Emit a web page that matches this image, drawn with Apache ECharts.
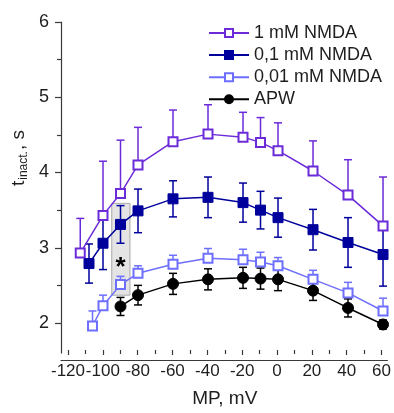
<!DOCTYPE html>
<html>
<head>
<meta charset="utf-8">
<script src="https://cdn.jsdelivr.net/npm/echarts@6.0.0/dist/echarts.min.js"></script>
<style>
html,body{margin:0;padding:0;background:#fff;}
#chart{width:394px;height:413px;}
</style>
</head>
<body>
<div id="chart"></div>
<script>
// ---- data ----
const seriesNames = ['1 mM NMDA', '0,1 mM NMDA', '0,01 mM NMDA', 'APW'];

const xPurple = [-113, -100, -90, -80, -60, -40, -20, -10, 0, 20, 40, 60];
const yPurple = [2.93, 3.43, 3.72, 4.10, 4.41, 4.51, 4.47, 4.40, 4.29, 4.02, 3.70, 3.29];
const ePurple = [0.46, 0.72, 0.71, 0.50, 0.42, 0.39, 0.33, 0.33, 0.37, 0.40, 0.47, 0.65];

const xBlue = [-108, -100, -90, -80, -60, -40, -20, -10, 0, 20, 40, 60];
const yBlue = [2.79, 3.06, 3.31, 3.49, 3.65, 3.67, 3.60, 3.50, 3.40, 3.24, 3.07, 2.91];
const eBlue = [0.26, 0.35, 0.25, 0.29, 0.24, 0.27, 0.26, 0.25, 0.26, 0.27, 0.33, 0.42];

const xLight = [-106, -100, -90, -80, -60, -40, -20, -10, 0, 20, 40, 60];
const yLight = [1.96, 2.23, 2.51, 2.66, 2.78, 2.86, 2.84, 2.81, 2.76, 2.58, 2.40, 2.16];
const eLight = [0.20, 0.14, 0.11, 0.10, 0.12, 0.13, 0.14, 0.13, 0.11, 0.12, 0.14, 0.17];

const xBlack = [-90, -80, -60, -40, -20, -10, 0, 20, 40, 60];
const yBlack = [2.22, 2.37, 2.52, 2.58, 2.60, 2.59, 2.58, 2.43, 2.20, 1.98];
const eBlack = [0.12, 0.13, 0.14, 0.14, 0.14, 0.14, 0.15, 0.13, 0.12, 0.06];

const xTicks = {min: -120, max: 60, interval: 20};
const yTicks = {min: 2, max: 6, interval: 1};

// significance box (mV range, s range) and marker
const sigBoxX = [-95, -84.6];
const sigBoxY = [2.37, 3.59];
const sigStar = [-90, 2.8];

// ---- styling ----
const cPurple = '#6c2bd9';
const cBlue = '#00009c';
const cLight = '#6e6eff';
const cBlack = '#000000';
const txt = '#1e1e1e';
const axisC = '#3a3a3a';
const FONT = 'Liberation Sans, Arial, sans-serif';

function pairs(xs, ys) { return xs.map((x, i) => [x, ys[i]]); }
function errData(xs, ys, es, both) {
  return xs.map((x, i) => [x, both ? ys[i] - es[i] : ys[i], ys[i] + es[i], both ? 1 : 0]);
}

function errSeries(data, color, z) {
  return {
    type: 'custom',
    xAxisIndex: 0, yAxisIndex: 0,
    z: z,
    silent: true,
    data: data,
    encode: {x: 0, y: [1, 2]},
    renderItem: function (params, api) {
      const x = api.value(0), lo = api.value(1), hi = api.value(2), both = api.value(3);
      const pLo = api.coord([x, lo]);
      const pHi = api.coord([x, hi]);
      const hw = 4;
      const st = {stroke: color, lineWidth: 1.5};
      const ch = [
        {type: 'line', shape: {x1: pLo[0], y1: pLo[1], x2: pHi[0], y2: pHi[1]}, style: st},
        {type: 'line', shape: {x1: pHi[0] - hw, y1: pHi[1], x2: pHi[0] + hw, y2: pHi[1]}, style: st}
      ];
      if (both) ch.push({type: 'line', shape: {x1: pLo[0] - hw, y1: pLo[1], x2: pLo[0] + hw, y2: pLo[1]}, style: st});
      return {type: 'group', children: ch};
    }
  };
}

function lineSeries(name, data, color, symbol, filled, size, z) {
  return {
    name: name,
    type: 'line',
    xAxisIndex: 0, yAxisIndex: 0,
    z: z,
    data: data,
    symbol: symbol,
    symbolSize: size,
    showAllSymbol: true,
    lineStyle: {color: color, width: 1.5},
    itemStyle: filled ? {color: color, borderColor: color, borderWidth: 1} : {color: '#ffffff', borderColor: color, borderWidth: 2},
    emphasis: {disabled: true},
    animation: false
  };
}

const chart = echarts.init(document.getElementById('chart'), null, {renderer: 'canvas'});

const option = {
  animation: false,
  textStyle: {fontFamily: FONT},
  grid: [
    {left: 61, right: 6.6, top: 22, bottom: 59.9},
    {left: 68, right: 11, top: 22, bottom: 59.9},
    {left: 61, right: 6.6, top: 22, bottom: 90}
  ],
  xAxis: [
    {gridIndex: 0, type: 'value', min: -124, max: 62.5, offset: 7,
     axisLine: {show: true, onZero: false, lineStyle: {color: axisC, width: 1.2}},
     axisTick: {show: false}, axisLabel: {show: false}, splitLine: {show: false}},
    {gridIndex: 1, type: 'value', min: xTicks.min, max: xTicks.max, interval: xTicks.interval, offset: 7,
     axisLine: {show: false, onZero: false},
     axisTick: {show: true, inside: false, length: 5, lineStyle: {color: axisC, width: 1.2}},
     minorTick: {show: true, splitNumber: 2, length: 4, lineStyle: {color: axisC, width: 1.2}},
     axisLabel: {show: true, fontSize: 17, color: txt, margin: 13, fontFamily: FONT,
                 hideOverlap: false, showMinLabel: true, showMaxLabel: true},
     splitLine: {show: false}, minorSplitLine: {show: false},
     name: 'MP, mV', nameLocation: 'middle', nameGap: 39,
     nameTextStyle: {fontSize: 19, color: txt, fontFamily: FONT}},
    {gridIndex: 2, type: 'value', min: -124, max: 62.5, show: false}
  ],
  yAxis: [
    {gridIndex: 0, type: 'value', min: 1.6, max: 6,
     axisLine: {show: true, onZero: false, lineStyle: {color: axisC, width: 1.2}},
     axisTick: {show: false}, axisLabel: {show: false}, splitLine: {show: false}},
    {gridIndex: 1, type: 'value', min: 1.6, max: 6, show: false},
    {gridIndex: 2, type: 'value', min: yTicks.min, max: yTicks.max, interval: yTicks.interval,
     axisLine: {show: false, onZero: false},
     axisTick: {show: true, inside: false, length: 6, lineStyle: {color: axisC, width: 1.2}},
     minorTick: {show: true, splitNumber: 2, length: 4, lineStyle: {color: axisC, width: 1.2}},
     axisLabel: {show: true, fontSize: 18, color: txt, margin: 12, fontFamily: FONT,
                 hideOverlap: false, showMinLabel: true, showMaxLabel: true},
     splitLine: {show: false}, minorSplitLine: {show: false}}
  ],
  legend: {
    data: seriesNames,
    orient: 'vertical',
    left: 203, top: 19,
    itemWidth: 40, itemHeight: 10,
    itemGap: 4.1,
    textStyle: {fontSize: 18, color: txt, fontFamily: FONT},
    selectedMode: false
  },
  graphic: [
    {type: 'text', x: 19, y: 158, rotation: Math.PI / 2,
     style: {
       text: '{t|t}{s|inact.}{t|, s}',
       textAlign: 'center', textVerticalAlign: 'middle',
       fill: txt,
       rich: {
         t: {fontSize: 19, fontFamily: FONT, fill: txt, lineHeight: 22, verticalAlign: 'middle'},
         s: {fontSize: 12, fontFamily: FONT, fill: txt, lineHeight: 12, padding: [10, 1, 0, 1], verticalAlign: 'bottom'}
       }
     }}
  ],
  series: [
    {
      type: 'scatter', xAxisIndex: 0, yAxisIndex: 0, data: [], z: 0, silent: true,
      markArea: {
        silent: true,
        itemStyle: {color: '#e4e4e4', borderColor: '#a9a9a9', borderWidth: 1},
        data: [[{xAxis: sigBoxX[0], yAxis: sigBoxY[0]}, {xAxis: sigBoxX[1], yAxis: sigBoxY[1]}]]
      },
      markPoint: {
        silent: true,
        symbol: 'circle', symbolSize: 0,
        label: {show: true, formatter: '*', fontSize: 26, fontWeight: 'bold', color: '#000', position: 'inside', offset: [0, 5], fontFamily: FONT},
        data: [{coord: sigStar}]
      }
    },
    errSeries(errData(xPurple, yPurple, ePurple, false), cPurple, 2),
    errSeries(errData(xBlue, yBlue, eBlue, true), cBlue, 2),
    errSeries(errData(xLight, yLight, eLight, false), cLight, 2),
    errSeries(errData(xBlack, yBlack, eBlack, true), cBlack, 2),
    lineSeries(seriesNames[0], pairs(xPurple, yPurple), cPurple, 'rect', false, 9, 4),
    lineSeries(seriesNames[1], pairs(xBlue, yBlue), cBlue, 'rect', true, 10, 4),
    lineSeries(seriesNames[2], pairs(xLight, yLight), cLight, 'rect', false, 9, 4),
    lineSeries(seriesNames[3], pairs(xBlack, yBlack), cBlack, 'circle', true, 11, 4)
  ]
};
chart.setOption(option);
</script>
</body>
</html>
